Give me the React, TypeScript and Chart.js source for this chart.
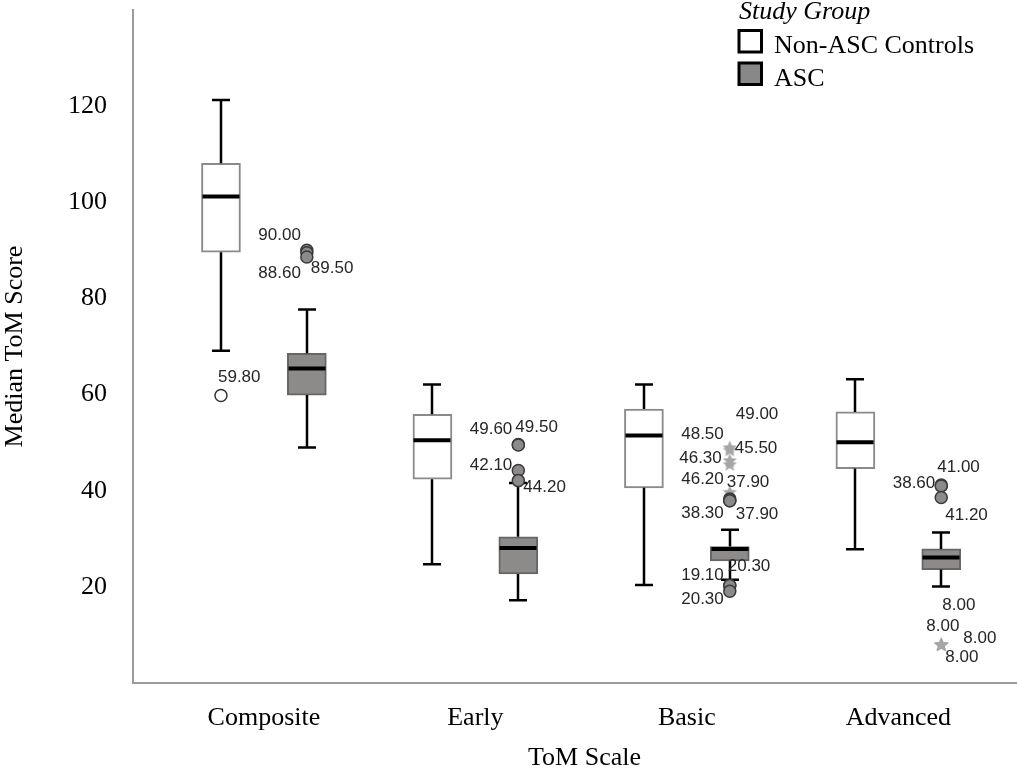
import React, { useEffect, useRef } from 'react';
import { Chart, registerables } from 'chart.js';

Chart.register(...registerables);

// ---------- data ----------
const categories = ['Composite', 'Early', 'Basic', 'Advanced'];
const seriesNames = ['Non-ASC Controls', 'ASC'];
const legendTitle = 'Study Group';
const xTitle = 'ToM Scale';
const yTitle = 'Median ToM Score';
const yTickValues = [20, 40, 60, 80, 100, 120];

const controlMin = [69.1, 24.7, 20.4, 27.8];
const controlQ1 = [89.6, 42.4, 40.6, 44.6];
const controlMedian = [101.2, 50.5, 51.5, 50.1];
const controlQ3 = [108.1, 55.9, 57.0, 56.4];
const controlMax = [121.3, 62.1, 62.1, 63.2];

const ascMin = [49.0, 17.2, 21.5, 20.1];
const ascQ1 = [59.9, 22.7, 25.4, 23.6];
const ascMedian = [65.4, 28.1, 27.9, 26.1];
const ascQ3 = [68.6, 30.4, 28.4, 27.9];
const ascMax = [77.7, 41.6, 31.9, 31.3];

const controlOutlierCat = [0];
const controlOutlierValue = [59.8];

const ascOutlierCat = [0, 0, 0, 1, 1, 1, 1, 2, 2, 2, 2, 2, 2, 2, 2, 2, 2, 2, 3, 3, 3, 3, 3, 3, 3];
const ascOutlierValue = [90.0, 89.5, 88.6, 49.6, 49.5, 44.2, 42.1, 49.0, 48.5, 46.3, 45.5, 39.7, 38.3, 37.9, 37.9, 20.3, 20.3, 19.1, 41.2, 41.0, 38.6, 8.0, 8.0, 8.0, 8.0];
const ascOutlierExtreme = [false, false, false, false, false, false, false, true, true, true, true, true, false, false, false, false, false, false, false, false, false, true, true, true, true];

// outlier value labels (text, which group, which point)
const labelText = ['59.80', '90.00', '88.60', '89.50', '49.60', '49.50', '42.10', '44.20', '49.00', '48.50', '46.30', '45.50', '46.20', '37.90', '38.30', '37.90', '20.30', '19.10', '20.30', '41.00', '38.60', '41.20', '8.00', '8.00', '8.00', '8.00'];
const labelGroup = ['c', 'a', 'a', 'a', 'a', 'a', 'a', 'a', 'a', 'a', 'a', 'a', 'a', 'a', 'a', 'a', 'a', 'a', 'a', 'a', 'a', 'a', 'a', 'a', 'a', 'a'];
const labelPoint = [0, 0, 2, 1, 3, 4, 6, 5, 7, 8, 9, 10, 11, 11, 12, 13, 15, 17, 16, 19, 20, 18, 21, 22, 23, 24];
// label layout (pixel offsets from the point)
const labelDx = [-3, -6, -6, 4, -6, -3, -6, 5, 6, -6, -8, 5, -6, -3, -6, 6, -2, -6, -6, -4, -6, 4, 1, -15, 22, 4];
const labelDy = [-18, -15, 16, 16, -15, -18, -15, 17, -33, -16, -2, -16, -13, -10, 14, 14, -19, -16, 14, -19, -14, 30, -39, -18, -6, 13];
const labelAlign = ['left', 'right', 'right', 'left', 'right', 'left', 'right', 'left', 'left', 'right', 'right', 'left', 'right', 'left', 'right', 'left', 'left', 'right', 'right', 'left', 'right', 'left', 'left', 'left', 'left', 'left'];

// ---------- style ----------
const GROUP_OFFSET = 0.203;
const SERIF = '"Liberation Serif", "Times New Roman", serif';
const ASC_FILL = '#8d8a8a';
const CTRL_FILL = '#ffffff';

export default function App() {
  const ref = useRef<HTMLCanvasElement>(null);

  useEffect(() => {
    const canvas = ref.current as HTMLCanvasElement;

    const star = document.createElement('canvas');
    star.width = 17;
    star.height = 17;
    const sctx = star.getContext('2d') as CanvasRenderingContext2D;
    sctx.fillStyle = '#a6a6a6';
    sctx.beginPath();
    for (let k = 0; k < 10; k++) {
      const r = k % 2 === 0 ? 7.5 : 3.3;
      const a = -Math.PI / 2 + (k * Math.PI) / 5;
      const px = 8.5 + r * Math.cos(a);
      const py = 9 + r * Math.sin(a);
      if (k === 0) sctx.moveTo(px, py);
      else sctx.lineTo(px, py);
    }
    sctx.closePath();
    sctx.fill();

    const stats: any = {
      c: { min: controlMin, q1: controlQ1, med: controlMedian, q3: controlQ3, max: controlMax, off: -GROUP_OFFSET },
      a: { min: ascMin, q1: ascQ1, med: ascMedian, q3: ascQ3, max: ascMax, off: GROUP_OFFSET },
    };

    const ctrlPts = controlOutlierValue.map((v, i) => ({ x: controlOutlierCat[i] + 1 - GROUP_OFFSET, y: v }));
    const ascPtsAll = ascOutlierValue.map((v, i) => ({ x: ascOutlierCat[i] + 1 + GROUP_OFFSET, y: v }));
    const ascCircles = ascPtsAll.filter((_, i) => !ascOutlierExtreme[i]);
    const ascStars = ascPtsAll.filter((_, i) => ascOutlierExtreme[i]);

    const boxPlugin = {
      id: 'boxWhiskers',
      afterDatasetDraw(chart: any, args: any) {
        const ds = chart.data.datasets[args.index];
        const g = ds.boxGroup;
        if (!g) return;
        const s = stats[g];
        const { ctx } = chart;
        const x = chart.scales.x;
        const y = chart.scales.y;
        ctx.save();
        ctx.strokeStyle = '#000';
        for (let i = 0; i < categories.length; i++) {
          const cx = Math.round(x.getPixelForValue(i + 1 + s.off));
          const yMin = y.getPixelForValue(s.min[i]);
          const yQ1 = y.getPixelForValue(s.q1[i]);
          const yQ3 = y.getPixelForValue(s.q3[i]);
          const yMax = y.getPixelForValue(s.max[i]);
          const yMed = y.getPixelForValue(s.med[i]);
          ctx.lineWidth = 2.5;
          ctx.beginPath();
          ctx.moveTo(cx, yQ1);
          ctx.lineTo(cx, yMin);
          ctx.moveTo(cx, yQ3);
          ctx.lineTo(cx, yMax);
          ctx.moveTo(cx - 9, yMin);
          ctx.lineTo(cx + 9, yMin);
          ctx.moveTo(cx - 9, yMax);
          ctx.lineTo(cx + 9, yMax);
          ctx.stroke();
          ctx.lineWidth = 4;
          ctx.beginPath();
          ctx.moveTo(cx - 18.5, yMed);
          ctx.lineTo(cx + 18.5, yMed);
          ctx.stroke();
        }
        ctx.restore();
      },
    };

    const labelPlugin = {
      id: 'outlierLabels',
      afterDatasetsDraw(chart: any) {
        const { ctx } = chart;
        const x = chart.scales.x;
        const y = chart.scales.y;
        ctx.save();
        ctx.font = '17px "Liberation Sans", Arial, sans-serif';
        ctx.fillStyle = '#262626';
        ctx.textBaseline = 'middle';
        for (let i = 0; i < labelText.length; i++) {
          const p = labelGroup[i] === 'c'
            ? { x: controlOutlierCat[labelPoint[i]] + 1 - GROUP_OFFSET, y: controlOutlierValue[labelPoint[i]] }
            : { x: ascOutlierCat[labelPoint[i]] + 1 + GROUP_OFFSET, y: ascOutlierValue[labelPoint[i]] };
          const px = x.getPixelForValue(p.x) + labelDx[i];
          const py = y.getPixelForValue(p.y) + labelDy[i];
          ctx.textAlign = labelAlign[i];
          ctx.fillText(labelText[i], px, py);
        }
        ctx.restore();
      },
    };

    const legendPlugin = {
      id: 'studyLegend',
      afterDraw(chart: any) {
        const { ctx } = chart;
        ctx.save();
        ctx.fillStyle = '#000';
        ctx.textBaseline = 'alphabetic';
        ctx.textAlign = 'left';
        ctx.font = 'italic 26px ' + SERIF;
        ctx.fillText(legendTitle, 739, 19);
        ctx.font = '26px ' + SERIF;
        const fills = [CTRL_FILL, '#888888'];
        for (let k = 0; k < seriesNames.length; k++) {
          const top = 30.5 + k * 32.5;
          ctx.fillStyle = fills[k];
          ctx.fillRect(739, top, 22.5, 21.5);
          ctx.lineWidth = 3;
          ctx.strokeStyle = '#000';
          ctx.strokeRect(739, top, 22.5, 21.5);
          ctx.fillStyle = '#000';
          ctx.fillText(seriesNames[k], 774, top + 22.5);
        }
        ctx.restore();
      },
    };

    const chart = new Chart(canvas, {
      type: 'bar',
      data: {
        datasets: [
          {
            type: 'bar',
            label: seriesNames[0],
            boxGroup: 'c',
            data: categories.map((_, i) => ({ x: i + 1 - GROUP_OFFSET, y: [controlQ1[i], controlQ3[i]] })),
            backgroundColor: CTRL_FILL,
            borderColor: '#8a8a8a',
            borderWidth: 2,
            borderSkipped: false,
            barThickness: 39,
            grouped: false,
            order: 2,
          } as any,
          {
            type: 'bar',
            label: seriesNames[1],
            boxGroup: 'a',
            data: categories.map((_, i) => ({ x: i + 1 + GROUP_OFFSET, y: [ascQ1[i], ascQ3[i]] })),
            backgroundColor: ASC_FILL,
            borderColor: '#666666',
            borderWidth: 2,
            borderSkipped: false,
            barThickness: 39,
            grouped: false,
            order: 2,
          } as any,
          {
            type: 'scatter',
            label: 'control outliers',
            data: ctrlPts,
            pointStyle: 'circle',
            pointRadius: 6,
            backgroundColor: '#ffffff',
            borderColor: '#333333',
            borderWidth: 1.5,
            order: 1,
          } as any,
          {
            type: 'scatter',
            label: 'asc outliers',
            data: ascCircles,
            pointStyle: 'circle',
            pointRadius: 6,
            backgroundColor: ASC_FILL,
            borderColor: '#3a3a3a',
            borderWidth: 1.5,
            order: 1,
          } as any,
          {
            type: 'scatter',
            label: 'asc extremes',
            data: ascStars,
            pointStyle: star,
            pointRadius: 8,
            order: 1,
          } as any,
        ],
      },
      options: {
        responsive: false,
        animation: false,
        devicePixelRatio: 1,
        layout: { padding: { top: 10, left: 0, right: 0, bottom: 0 } },
        plugins: {
          legend: { display: false },
          tooltip: { enabled: false },
        },
        scales: {
          x: {
            type: 'linear',
            offset: false,
            min: 0.381,
            max: 4.651,
            grid: { display: false, drawTicks: false, offset: false },
            border: { display: true, color: '#9a9a9a', width: 2 },
            afterBuildTicks: (scale: any) => {
              scale.ticks = categories.map((_, i) => ({ value: i + 1 }));
            },
            afterFit: (scale: any) => {
              scale.height = 97;
              scale.paddingLeft = 0;
              scale.paddingRight = 0;
            },
            ticks: {
              autoSkip: false,
              maxRotation: 0,
              padding: 20,
              color: '#000',
              font: { family: SERIF, size: 26 },
              callback: (v: any) => categories[Math.round(v) - 1] ?? '',
            },
            title: {
              display: true,
              text: xTitle,
              color: '#000',
              font: { family: SERIF, size: 26 },
              padding: { top: 0, bottom: 6 },
            },
          },
          y: {
            type: 'linear',
            min: 0,
            max: 140,
            grid: { display: false, drawTicks: false },
            border: { display: true, color: '#9a9a9a', width: 2 },
            afterBuildTicks: (scale: any) => {
              scale.ticks = yTickValues.map((v) => ({ value: v }));
            },
            afterFit: (scale: any) => {
              scale.width = 133;
              scale.paddingTop = 0;
              scale.paddingBottom = 0;
            },
            ticks: {
              padding: 26,
              color: '#000',
              font: { family: SERIF, size: 26 },
              callback: (v: any) => String(v),
            },
            title: {
              display: true,
              text: yTitle,
              color: '#000',
              font: { family: SERIF, size: 26 },
              padding: { top: 0, bottom: 0 },
            },
          },
        },
      } as any,
      plugins: [boxPlugin, labelPlugin, legendPlugin],
    });

    return () => chart.destroy();
  }, []);

  return (
    <div style={{ position: 'absolute', left: 0, top: 0, width: 1017, height: 780, overflow: 'hidden', background: '#fff' }}>
      <canvas ref={ref} width={1045} height={780} style={{ display: 'block', width: 1045, height: 780 }} />
    </div>
  );
}
